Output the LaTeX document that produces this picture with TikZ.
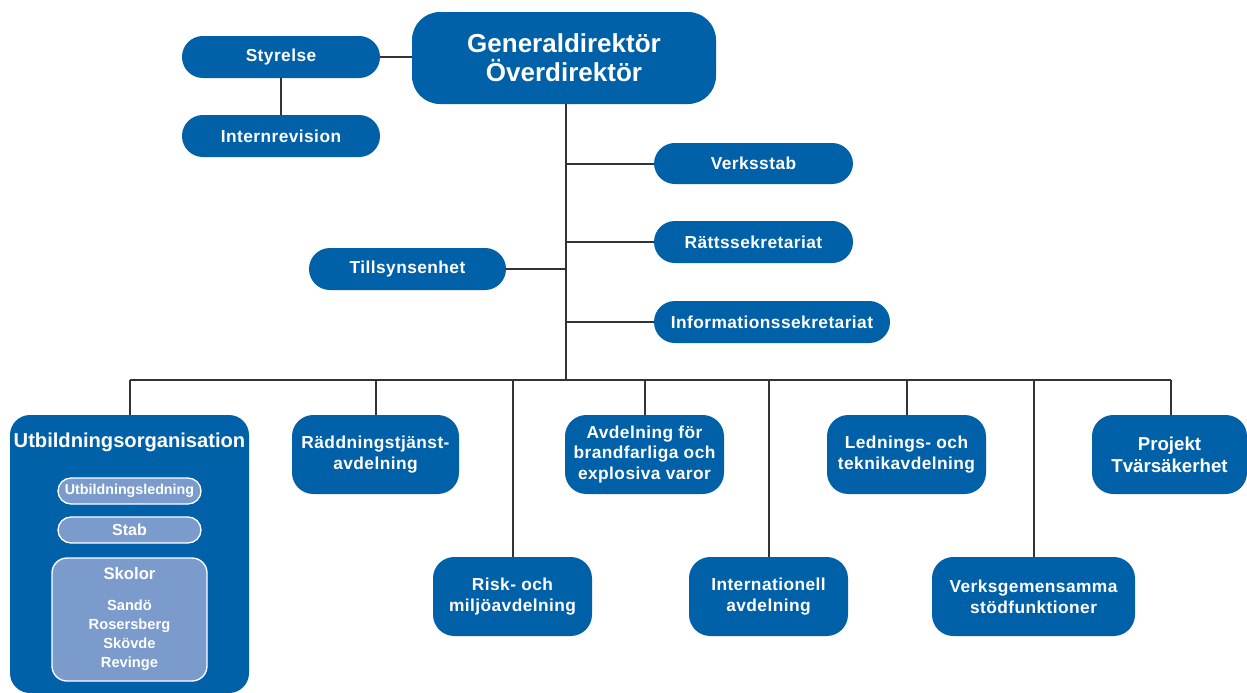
\documentclass[tikz,border=0pt]{standalone}
\usepackage{fontspec}
\setmainfont{Liberation Sans}
\newfontfamily\spacedfont[LetterSpace=2.5]{Liberation Sans}
\definecolor{msbblue}{RGB}{0,96,168}
\definecolor{msblight}{RGB}{122,155,204}
\definecolor{linegray}{RGB}{51,51,51}
\begin{document}
\begin{tikzpicture}[x=0.75pt,y=-0.75pt,
  box/.style={fill=msbblue, text=white, align=center, inner sep=0pt,
    font=\spacedfont\bfseries\fontsize{13}{15.75}\selectfont},
  pill/.style={box, minimum height=31.5pt, rounded corners=15.7pt},
  dept/.style={box, minimum height=59.25pt, minimum width=119.25pt, rounded corners=16pt},
  inner/.style={fill=msblight, draw=white, line width=1pt, text=white, align=center, inner sep=0pt},
  conn/.style={draw=linegray, line width=1.5pt}
]
\useasboundingbox (0,0) rectangle (1247,693);

% top
\node[box, minimum width=228pt, minimum height=69pt, rounded corners=21pt,
  font=\bfseries\fontsize{19.5}{22}\selectfont] (gd) at (564,58) {Generaldirektör\\Överdirektör};
\node[pill, minimum width=148.5pt] (sty) at (281,57) {Styrelse};
\node[pill, minimum width=148.5pt] (int) at (281,136) {Internrevision};

\node[pill, minimum width=149.25pt, minimum height=30.75pt] (verk) at (753.5,163.5) {Verksstab};
\node[pill, minimum width=149.25pt] (ratt) at (753.5,242) {Rättssekretariat};
\node[pill, minimum width=147.75pt] (till) at (407.5,269) {Tillsynsenhet};
\node[pill, minimum width=177pt] (info) at (772,322) {Informationssekretariat};

\coordinate (bus) at (566,380);
\coordinate (busL) at (130,380);
\coordinate (busR) at (1171,380);

% departments
\node[box, minimum width=179.25pt, minimum height=208.5pt, rounded corners=15pt] (utb) at (129.5,554) {};
\node[text=white, font=\bfseries\fontsize{15.1}{18}\selectfont, inner sep=0pt] (utbtitle) at (129.5,442) {Utbildningsorganisation};
\node[inner, minimum width=107.25pt, minimum height=19.5pt, rounded corners=9.75pt,
  font=\bfseries\fontsize{10.7}{13}\selectfont] (uled) at (129.5,491) {Utbildningsledning};
\node[inner, minimum width=107.25pt, minimum height=19.5pt, rounded corners=9.75pt,
  font=\bfseries\fontsize{12}{14}\selectfont] (stab) at (129.5,530) {Stab};
\node[inner, minimum width=116.25pt, minimum height=92.25pt, rounded corners=11.25pt,
  font=\bfseries\fontsize{11}{14.25}\selectfont] (skol) at (129.5,619.5)
  {{\fontsize{12.5}{14}\selectfont Skolor}\\[9pt]Sandö\\Rosersberg\\Skövde\\Revinge};

\node[dept, minimum width=125.25pt] (radd) at (375.5,454.5) {Räddningstjänst-\\avdelning};
\node[dept, font=\spacedfont\bfseries\fontsize{13}{15.4}\selectfont] (avd) at (644.5,454.5) {Avdelning för\\brandfarliga och\\explosiva varor};
\node[dept] (risk) at (512.5,596.5) {Risk- och\\miljöavdelning};
\node[dept] (intl) at (768.5,596.5) {Internationell\\avdelning};
\node[dept] (led) at (906.5,454.5) {Lednings- och\\teknikavdelning};
\node[dept, minimum width=152.25pt] (vgem) at (1033.5,596.5) {Verksgemensamma\\stödfunktioner};
\node[dept, minimum width=116.25pt, font=\bfseries\fontsize{14}{16.5}\selectfont] (proj) at (1169.5,454.5) {Projekt\\Tvärsäkerhet};

% connectors
\draw[conn] (sty.east) -- (sty.east -| gd.west);
\draw[conn] (sty.south) -- (int.north);
\draw[conn] (gd.south -| bus) -- (bus);
\draw[conn] (verk.west -| bus) -- (verk.west);
\draw[conn] (ratt.west -| bus) -- (ratt.west);
\draw[conn] (till.east -| bus) -- (till.east);
\draw[conn] (info.west -| bus) -- (info.west);
\draw[conn] (busL) -- (busR);
\draw[conn] (busL) -- (utb.north -| busL);
\draw[conn] (radd.north |- bus) -- (radd.north);
\draw[conn] (risk.north |- bus) -- (risk.north);
\draw[conn] (avd.north |- bus) -- (avd.north);
\draw[conn] (intl.north |- bus) -- (intl.north);
\draw[conn] (led.north |- bus) -- (led.north);
\draw[conn] (vgem.north |- bus) -- (vgem.north);
\draw[conn] (busR) -- (proj.north -| busR);
\end{tikzpicture}
\end{document}
